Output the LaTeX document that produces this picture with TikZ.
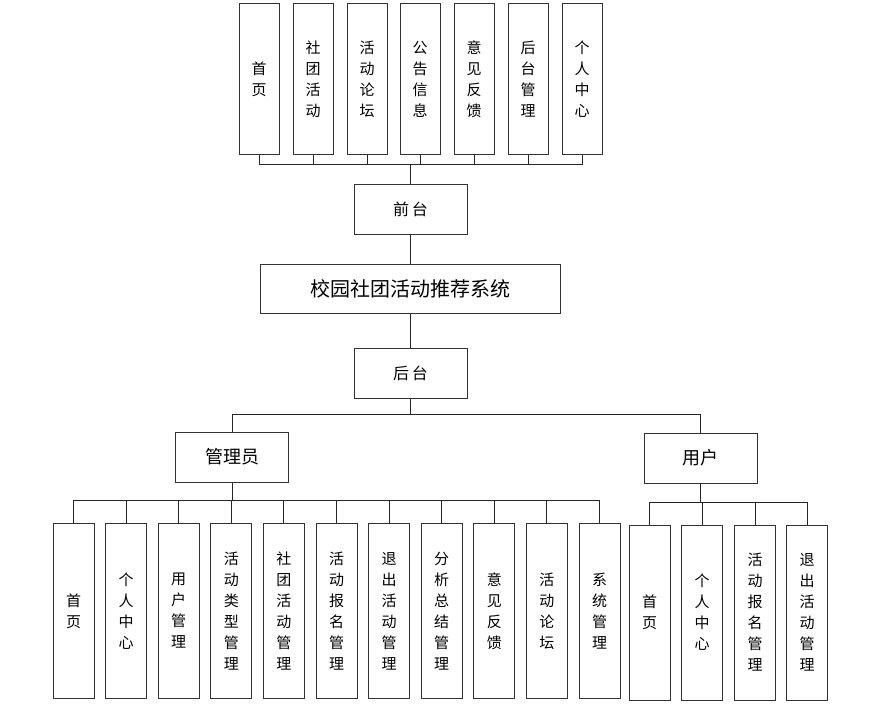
\documentclass[tikz,border=0pt]{standalone}
\usepackage{fontspec}
\setmainfont{Noto Sans CJK SC}
\usetikzlibrary{positioning}

\tikzset{
	kasten/.style={draw=black!80, line width=1pt, inner sep=0pt, align=center, font=\fontsize{15}{21}\selectfont},
	hoch/.style={kasten, minimum width=40pt, minimum height=150pt},
	tief/.style={kasten, minimum width=41pt, minimum height=175pt},
	breit/.style={kasten, minimum width=113pt, minimum height=50pt},
	linie/.style={draw=black!85, line width=1pt}
}

\begin{document}
\begin{tikzpicture}[x=1pt, y=-1pt]
		\useasboundingbox (0,0) rectangle (870,709);

		\node[hoch] (q1) at (259,79) {首\\页};
		\node[hoch] (q2) at (313,79) {社\\团\\活\\动};
		\node[hoch] (q3) at (367,79) {活\\动\\论\\坛};
		\node[hoch] (q4) at (420,79) {公\\告\\信\\息};
		\node[hoch] (q5) at (474,79) {意\\见\\反\\馈};
		\node[hoch] (q6) at (528,79) {后\\台\\管\\理};
		\node[hoch] (q7) at (582,79) {个\\人\\中\\心};

		\node[breit, font=\fontsize{16}{20}\selectfont] (qt) at (410.5,209) {前\,台};
		\node[kasten, minimum width=300pt, minimum height=49pt, font=\fontsize{20}{24}\selectfont] (xt) at (410.5,288.5) {校园社团活动推荐系统};
		\node[breit, font=\fontsize{16}{20}\selectfont] (ht) at (410.5,373) {后\,台};

		\node[breit, font=\fontsize{18}{22}\selectfont] (gly) at (232,457) {管理员};
		\node[breit, font=\fontsize{18}{22}\selectfont] (yh) at (700.5,458) {用户};

		\node[tief] (g1) at (73.5,611) {首\\页};
		\node[tief] (g2) at (126.1,611) {个\\人\\中\\心};
		\node[tief] (g3) at (178.7,611) {用\\户\\管\\理};
		\node[tief] (g4) at (231.3,611) {活\\动\\类\\型\\管\\理};
		\node[tief] (g5) at (283.9,611) {社\\团\\活\\动\\管\\理};
		\node[tief] (g6) at (336.5,611) {活\\动\\报\\名\\管\\理};
		\node[tief] (g7) at (389.1,611) {退\\出\\活\\动\\管\\理};
		\node[tief] (g8) at (441.7,611) {分\\析\\总\\结\\管\\理};
		\node[tief] (g9) at (494.3,611) {意\\见\\反\\馈};
		\node[tief] (g10) at (546.9,611) {活\\动\\论\\坛};
		\node[tief] (g11) at (599.5,611) {系\\统\\管\\理};

		\node[tief] (y1) at (649.5,612.5) {首\\页};
		\node[tief] (y2) at (702,612.5) {个\\人\\中\\心};
		\node[tief] (y3) at (755,612.5) {活\\动\\报\\名\\管\\理};
		\node[tief] (y4) at (807,612.5) {退\\出\\活\\动\\管\\理};

		\coordinate (qbus) at (410.5,164);
		\coordinate (hbus) at (410.5,414);
		\coordinate (gbus) at (232,500);
		\coordinate (ybus) at (700.5,502);

		% Frontend
		\draw[linie] (q1.south) |- (qbus) (q2.south) |- (qbus) (q3.south) |- (qbus) (q4.south) |- (qbus)
			(q5.south) |- (qbus) (q6.south) |- (qbus) (q7.south) |- (qbus);
		\draw[linie] (qbus) -- (qt.north);
		\draw[linie] (qt.south) -- (xt.north);
		\draw[linie] (xt.south) -- (ht.north);

		% Backend
		\draw[linie] (ht.south) -- (hbus) -| (gly.north);
		\draw[linie] (hbus) -| (yh.north);

		\draw[linie] (gly.south) -- (gbus);
		\draw[linie] (g1.north) |- (gbus) (g2.north) |- (gbus) (g3.north) |- (gbus) (g4.north) |- (gbus)
			(g5.north) |- (gbus) (g6.north) |- (gbus) (g7.north) |- (gbus) (g8.north) |- (gbus)
			(g9.north) |- (gbus) (g10.north) |- (gbus) (g11.north) |- (gbus);

		\draw[linie] (yh.south) -- (ybus);
		\draw[linie] (y1.north) |- (ybus) (y2.north) |- (ybus) (y3.north) |- (ybus) (y4.north) |- (ybus);
	\end{tikzpicture}
\end{document}
